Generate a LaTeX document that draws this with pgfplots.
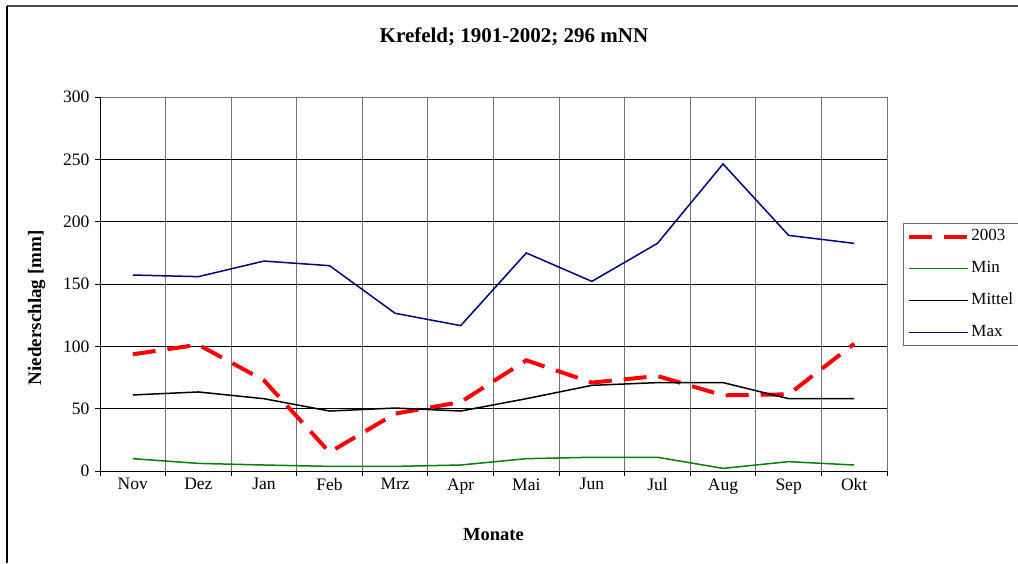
\documentclass[border=0pt]{standalone}
\usepackage{fontspec}
\setmainfont{Liberation Serif}
\usepackage{pgfplots}
\pgfplotsset{compat=1.18}
\definecolor{navyc}{RGB}{0,0,128}
\definecolor{greenc}{RGB}{0,128,0}
\definecolor{redc}{RGB}{255,0,0}
\begin{document}
\begin{tikzpicture}[x=1pt,y=1pt]
\useasboundingbox (0,0) rectangle (1018,563);
\draw[line width=1.5pt, black!70] (7,557) -- (1018,557);
\draw[line width=1.2pt, black] (7,557) -- (7,0);
\begin{axis}[
  at={(100pt,92pt)}, anchor=south west,
  scale only axis, width=787pt, height=374pt,
  xmin=0, xmax=12, ymin=0, ymax=300,
  ytick={0,50,...,300},
  xtick={0.5,1.5,...,11.5},
  xticklabels={Nov,Dez,Jan,Feb,Mrz,Apr,Mai,Jun,Jul,Aug,Sep,Okt},
  minor xtick={0,1,...,12},
  xtick pos=bottom, ytick pos=left,
  xminorgrids=true, ymajorgrids=true,
  x grid style={black!55, line width=1pt},
  y grid style={black, line width=1pt},
  major x tick style={draw=none},
  minor x tick style={black, line width=1pt},
  y tick style={black, line width=1pt},
  tick align=outside,
  major tick length=5pt, minor tick length=5pt,
  axis line style={draw=none},
  /pgf/number format/assume math mode=true,
  tick label style={font=\fontsize{17.5}{17.5}\selectfont},
  xticklabel style={yshift=1pt},
  yticklabel style={xshift=-2pt},
  title={Krefeld; 1901-2002; 296 mNN},
  title style={font=\fontsize{21}{21}\selectfont\bfseries, at={(axis description cs:0.526,1.145)}, anchor=center},
  xlabel={Monate},
  xlabel style={font=\fontsize{18.5}{18.5}\selectfont\bfseries, at={(axis description cs:0.5,-0.171)}, anchor=center},
  ylabel={Niederschlag [mm]},
  ylabel style={font=\fontsize{19}{19}\selectfont\bfseries, at={(axis description cs:-0.0805,0.436)}, anchor=center},
  legend style={at={(axis description cs:1.0203,0.663)}, anchor=north west,
    draw=black!60, line width=1pt, fill=white, inner sep=4pt,
    font=\fontsize{17}{17}\selectfont,
    nodes={inner sep=1pt, text height=12pt, text depth=4pt},
    row sep=14pt},
  legend cell align=left,
  legend image code/.code={\draw[#1] (0pt,0pt) -- (59pt,0pt);},
]
\addplot[redc, line width=4pt, dash pattern=on 23pt off 12pt] coordinates {
 (0.5,93.6) (1.5,101.3) (2.5,72.7) (3.5,15) (4.5,46) (5.5,55.3)
 (6.5,88.8) (7.5,70.9) (8.5,76.2) (9.5,60.7) (10.5,61.5) (11.5,102.1)};
\addlegendentry{2003}
\addplot[greenc, line width=1.5pt] coordinates {
 (0.5,9.9) (1.5,6.1) (2.5,4.8) (3.5,3.7) (4.5,3.7) (5.5,4.8)
 (6.5,9.9) (7.5,11) (8.5,11) (9.5,2.1) (10.5,7.5) (11.5,4.8)};
\addlegendentry{Min}
\addplot[black, line width=1.5pt] coordinates {
 (0.5,61) (1.5,63.4) (2.5,58) (3.5,48.1) (4.5,50.5) (5.5,48.1)
 (6.5,58) (7.5,68.7) (8.5,70.9) (9.5,70.9) (10.5,58) (11.5,58)};
\addlegendentry{Mittel}
\addplot[navyc, line width=1.5pt] coordinates {
 (0.5,157.2) (1.5,155.9) (2.5,168.4) (3.5,164.7) (4.5,126.5) (5.5,116.6)
 (6.5,174.9) (7.5,152.1) (8.5,182.6) (9.5,246.3) (10.5,189) (11.5,182.6)};
\addlegendentry{Max}
\draw[black!55, line width=1pt] (rel axis cs:0,1) -- (rel axis cs:1,1) -- (rel axis cs:1,0);
\draw[black, line width=1pt] (rel axis cs:0,1) -- (rel axis cs:0,0) -- (rel axis cs:1,0);
\end{axis}
\end{tikzpicture}
\end{document}
